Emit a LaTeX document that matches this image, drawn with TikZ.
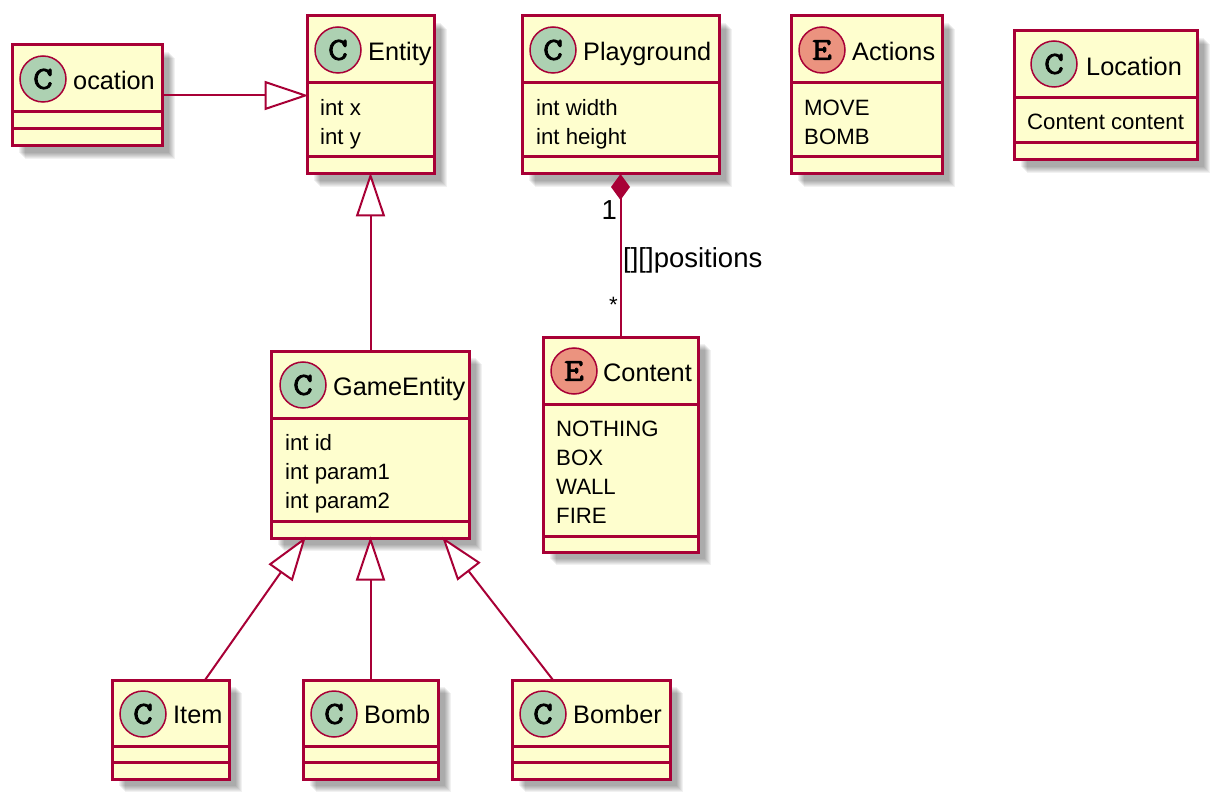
\documentclass[tikz,border=0pt]{standalone}
\usepackage{fontspec}
\setmainfont{Liberation Sans}
\newfontfamily\spotfont[FakeStretch=1.2,FakeBold=2.5]{Latin Modern Mono}
\usetikzlibrary{arrows.meta}
\definecolor{umlred}{HTML}{A80036}
\definecolor{umlfill}{HTML}{FEFECE}
\definecolor{spotc}{HTML}{ADD1B2}
\definecolor{spote}{HTML}{EB937F}
\tikzset{
x=1pt, y=-1pt,
softshadow/.style={preaction={draw=none, fill=black, fill opacity=.056, transform canvas={xshift=#1pt, yshift=-#1pt}}},
classbox/.style={draw=umlred, fill=umlfill, line width=3pt, outer sep=0pt, inner sep=0pt,
    softshadow=7, softshadow=8, softshadow=9, softshadow=10, softshadow=11, softshadow=12, softshadow=13},
sepline/.style={draw=umlred, line width=3pt},
spotnode/.style={circle, draw=umlred, line width=1.5pt, minimum size=46pt, inner sep=0pt,
    font=\spotfont\fontsize{32}{32}\selectfont},
spot c/.style={spotnode, fill=spotc},
spot e/.style={spotnode, fill=spote},
classname/.style={anchor=base west, inner sep=0pt, font=\fontsize{25.3}{25.3}\selectfont},
fieldname/.style={anchor=base west, inner sep=0pt, font=\fontsize{22.2}{22.2}\selectfont},
linklabel/.style={anchor=base west, inner sep=0pt, font=\fontsize{27.5}{27.5}\selectfont},
extends/.style={draw=umlred, line width=2pt, shorten >=-1.5pt, -{Triangle[fill=white, length=44pt, width=29pt, line width=2pt]}},
composed/.style={draw=umlred, line width=2pt, {Diamond[length=26pt, width=19pt]}-},
}

\begin{document}
\begin{tikzpicture}
            \useasboundingbox (0,0) rectangle (1220,802);

            % Boxes
            \node[classbox, minimum width=150pt, minimum height=101pt] (ocation) at (87,95.5) {};
            \node[classbox, minimum width=127pt, minimum height=158pt] (entity) at (370.5,95) {};
            \node[classbox, minimum width=197pt, minimum height=158pt] (playground) at (620.5,95) {};
            \node[classbox, minimum width=151pt, minimum height=158pt] (actions) at (866.5,95) {};
            \node[classbox, minimum width=183pt, minimum height=129pt] (location) at (1105.5,95.5) {};
            \node[classbox, minimum width=198pt, minimum height=187pt] (gameentity) at (370,444.5) {};
            \node[classbox, minimum width=155pt, minimum height=215pt] (content) at (620.5,444.5) {};
            \node[classbox, minimum width=117pt, minimum height=99pt] (item) at (170.5,729.5) {};
            \node[classbox, minimum width=135pt, minimum height=99pt] (bomb) at (370.5,729.5) {};
            \node[classbox, minimum width=158pt, minimum height=99pt] (bomber) at (591,729.5) {};

            % Separators
            \draw[sepline] (ocation.west |- 0,112) -- (ocation.east |- 0,112);
            \draw[sepline] (ocation.west |- 0,129) -- (ocation.east |- 0,129);
            \draw[sepline] (entity.west |- 0,83) -- (entity.east |- 0,83);
            \draw[sepline] (entity.west |- 0,157) -- (entity.east |- 0,157);
            \draw[sepline] (playground.west |- 0,83) -- (playground.east |- 0,83);
            \draw[sepline] (playground.west |- 0,157) -- (playground.east |- 0,157);
            \draw[sepline] (actions.west |- 0,83) -- (actions.east |- 0,83);
            \draw[sepline] (actions.west |- 0,157) -- (actions.east |- 0,157);
            \draw[sepline] (location.west |- 0,98) -- (location.east |- 0,98);
            \draw[sepline] (location.west |- 0,143) -- (location.east |- 0,143);
            \draw[sepline] (gameentity.west |- 0,418) -- (gameentity.east |- 0,418);
            \draw[sepline] (gameentity.west |- 0,521) -- (gameentity.east |- 0,521);
            \draw[sepline] (content.west |- 0,404) -- (content.east |- 0,404);
            \draw[sepline] (content.west |- 0,536) -- (content.east |- 0,536);
            \draw[sepline] (item.west |- 0,746) -- (item.east |- 0,746);
            \draw[sepline] (item.west |- 0,762) -- (item.east |- 0,762);
            \draw[sepline] (bomb.west |- 0,746) -- (bomb.east |- 0,746);
            \draw[sepline] (bomb.west |- 0,762) -- (bomb.east |- 0,762);
            \draw[sepline] (bomber.west |- 0,746) -- (bomber.east |- 0,746);
            \draw[sepline] (bomber.west |- 0,762) -- (bomber.east |- 0,762);

            % Spots
            \node[spot c] (ocation spot) at (43,79) {C};
            \node[spot c] (entity spot) at (338,50) {C};
            \node[spot c] (playground spot) at (553,50) {C};
            \node[spot e] (actions spot) at (822,50) {E};
            \node[spot c] (location spot) at (1054,64) {C};
            \node[spot c] (gameentity spot) at (303,385) {C};
            \node[spot e] (content spot) at (574,371) {E};
            \node[spot c] (item spot) at (143,714) {C};
            \node[spot c] (bomb spot) at (334,714) {C};
            \node[spot c] (bomber spot) at (543,714) {C};

            % Class names
            \node[classname] (ocation name) at (73,90) {ocation};
            \node[classname] (entity name) at (368,61) {Entity};
            \node[classname] (playground name) at (583,61) {Playground};
            \node[classname] (actions name) at (852,61) {Actions};
            \node[classname] (location name) at (1086,75.5) {Location};
            \node[classname] (gameentity name) at (333,395.5) {GameEntity};
            \node[classname] (content name) at (603,381.5) {Content};
            \node[classname] (item name) at (173,723) {Item};
            \node[classname] (bomb name) at (364,723) {Bomb};
            \node[classname] (bomber name) at (573,723) {Bomber};

            % Fields
            \node[fieldname] (entity x) at (320,116) {int x};
            \node[fieldname] (entity y) at (320,145) {int y};
            \node[fieldname] (playground w) at (536,116) {int width};
            \node[fieldname] (playground h) at (536,145) {int height};
            \node[fieldname] (actions move) at (804,116) {MOVE};
            \node[fieldname] (actions bomb) at (804,145) {BOMB};
            \node[fieldname] (location content) at (1027,130) {Content content};
            \node[fieldname] (gameentity id) at (285,450) {int id};
            \node[fieldname] (gameentity p1) at (285,479) {int param1};
            \node[fieldname] (gameentity p2) at (285,508) {int param2};
            \node[fieldname] (content nothing) at (556,436) {NOTHING};
            \node[fieldname] (content box) at (556,465) {BOX};
            \node[fieldname] (content wall) at (556,494) {WALL};
            \node[fieldname] (content fire) at (556,523) {FIRE};

            % Transitions between classes
            \coordinate (item top) at (205,680);
            \coordinate (bomber top) at (553,680);
            \coordinate (gameentity left) at (305,538);
            \coordinate (gameentity right) at (443,538);
            \draw[extends] (ocation.east) -- (ocation.east -| entity.west);
            \draw[extends] (gameentity.north -| entity.south) -- (entity.south);
            \draw[extends] (item top) -- (gameentity left);
            \draw[extends] (bomb.north) -- (gameentity.south -| bomb.north);
            \draw[extends] (bomber top) -- (gameentity right);
            \draw[composed] (playground.south) -- (content.north);

            % Link labels
            \node[linklabel, anchor=base east] (one label) at (617,219.5) {1};
            \node[linklabel] (positions label) at (623,268) {[][]positions};
            \node[fieldname, anchor=base east] (many label) at (618,312) {*};
\end{tikzpicture}
\end{document}
